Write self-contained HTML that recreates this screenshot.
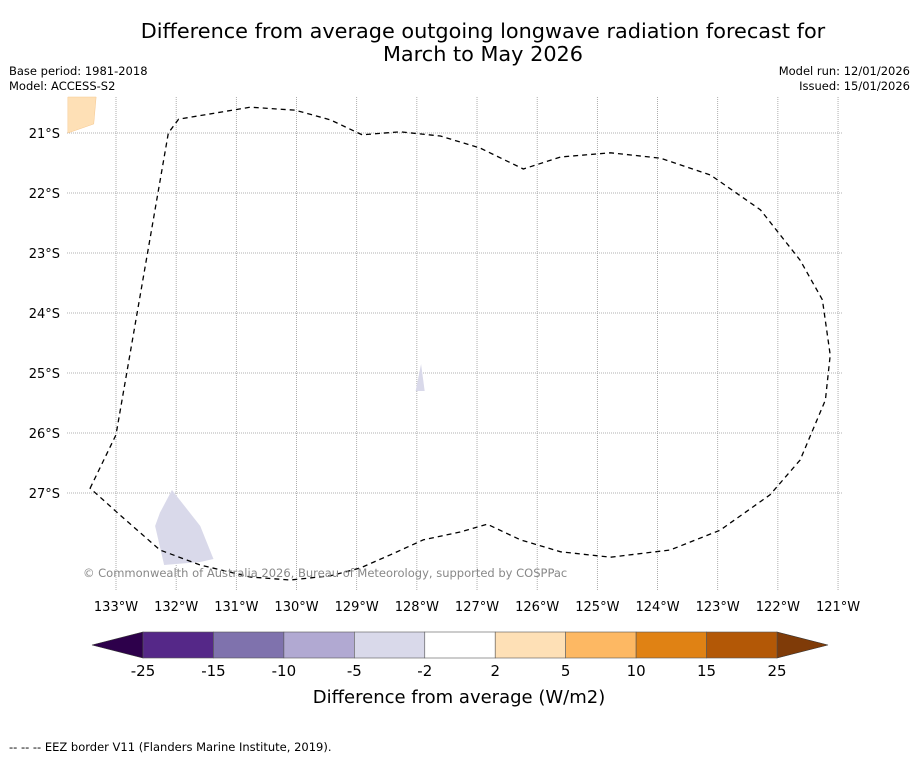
<!DOCTYPE html>
<html><head><meta charset="utf-8"><style>
body{margin:0;background:#fff;font-family:"Liberation Sans","DejaVu Sans",sans-serif}
</style></head><body>
<svg id="s" width="919" height="758" viewBox="0 0 919 758" xmlns="http://www.w3.org/2000/svg" font-family="DejaVu Sans, Liberation Sans, sans-serif">
<rect width="919" height="758" fill="#fff"/>
<text x="483" y="38" font-size="20.8" text-anchor="middle">Difference from average outgoing longwave radiation forecast for</text>
<text x="483" y="61" font-size="20.8" text-anchor="middle">March to May 2026</text>
<text x="9" y="75" font-size="11.5">Base period: 1981-2018</text>
<text x="9" y="90" font-size="11.5">Model: ACCESS-S2</text>
<text x="910" y="75" font-size="11.5" text-anchor="end">Model run: 12/01/2026</text>
<text x="910" y="90" font-size="11.5" text-anchor="end">Issued: 15/01/2026</text>
<g id="map"></g>
<g id="cb"></g>
<text x="459" y="703" font-size="18" text-anchor="middle">Difference from average (W/m2)</text>
<text x="9" y="751" font-size="11.5">--  --  -- EEZ border V11 (Flanders Marine Institute, 2019).</text>
</svg>
<script>
const lonTicks=[-133,-132,-131,-130,-129,-128,-127,-126,-125,-124,-123,-122,-121];
const latTicks=[-21,-22,-23,-24,-25,-26,-27];
const cbLevels=[-25,-15,-10,-5,-2,2,5,10,15,25];
const cbColors=["#552888","#7f72ad","#b1a9d2","#d9d9ea","#ffffff","#fee0b6","#fdb863","#e08214","#b35806"];
const boundaryLon=[-133.43,-133,-132.13,-131.96,-130.77,-130.02,-129.44,-128.91,-128.28,-127.61,-126.95,-126.23,-125.61,-124.78,-123.95,-123.12,-122.29,-121.63,-121.26,-121.13,-121.21,-121.63,-122.13,-122.96,-123.79,-124.78,-125.61,-126.28,-126.83,-127.28,-127.89,-128.44,-128.94,-129.44,-130.1,-130.77,-131.6,-132.27,-132.93,-133.43];
const boundaryLat=[-26.92,-26.03,-21,-20.77,-20.57,-20.62,-20.78,-21.03,-20.98,-21.05,-21.25,-21.6,-21.4,-21.33,-21.42,-21.7,-22.28,-23.12,-23.78,-24.7,-25.45,-26.45,-27.03,-27.62,-27.95,-28.07,-27.98,-27.78,-27.52,-27.65,-27.78,-28.03,-28.25,-28.38,-28.45,-28.4,-28.2,-27.95,-27.37,-26.92];
const blobLon=[-132.07,-131.6,-131.38,-131.6,-132.2,-132.35,-132.27];
const blobLat=[-26.95,-27.55,-28.1,-28.15,-28.2,-27.55,-27.33];
const smallLon=[-127.93,-127.87,-128.02];
const smallLat=[-24.85,-25.3,-25.3];
const orangeLon=[-133.8,-133.33,-133.37,-133.8];
const orangeLat=[-20.4,-20.4,-20.85,-21];
const X=lon=>116+(lon+133)*60.17, Y=lat=>133+(-21-lat)*60;
const NS="http://www.w3.org/2000/svg";
function mk(p,t,a){const e=document.createElementNS(NS,t);for(const k in a)e.setAttribute(k,a[k]);p.appendChild(e);return e;}
const map=document.getElementById('map');
const L=67,R=843,T=97,B=590;
lonTicks.forEach(v=>{const x=X(v);
 const g=mk(map,'line',{x1:x,x2:x,y1:T,y2:B,stroke:'#999','stroke-width':0.8,'stroke-dasharray':'1,1'});
 
 
 const t=mk(map,'text',{x:x,y:611,'font-size':13,'text-anchor':'middle'});t.textContent=Math.abs(v)+'°W';
 
 });
latTicks.forEach(v=>{const y=Y(v);
 const g=mk(map,'line',{x1:L,x2:R,y1:y,y2:y,stroke:'#999','stroke-width':0.8,'stroke-dasharray':'1,1'});
 
 
 const t=mk(map,'text',{x:60,y:y+5,'font-size':13,'text-anchor':'end'});t.textContent=Math.abs(v)+'°S';
 
 });
function poly(lo,la,attrs,name){const e=mk(map,'polygon',Object.assign({points:lo.map((v,i)=>X(v)+','+Y(la[i])).join(' ')},attrs));
 
 }
poly(orangeLon,orangeLat,{fill:'#fee0b6',stroke:'#f5c890','stroke-width':0.5},'anomaly-region-positive');
poly(blobLon,blobLat,{fill:'#d9d9ea'},'anomaly-region-negative');
poly(smallLon,smallLat,{fill:'#d9d9ea'},'anomaly-region-small');
poly(boundaryLon,boundaryLat,{fill:'none',stroke:'#000','stroke-width':1.3,'stroke-dasharray':'5,4'},'eez-boundary');
const cr=mk(map,'text',{x:83,y:577,'font-size':11.5,fill:'#888'});cr.textContent='© Commonwealth of Australia 2026, Bureau of Meteorology, supported by COSPPac';


const cb=document.getElementById('cb');
const c0=143,c1=777,cy0=632,cy1=658,n=cbColors.length,w=(c1-c0)/n;
let tl=mk(cb,'polygon',{points:`${c0},${cy0} ${c0},${cy1} 92,645`,fill:'#2d004b',stroke:'#333','stroke-width':0.6});


let tr=mk(cb,'polygon',{points:`${c1},${cy0} ${c1},${cy1} 828,645`,fill:'#7f3b08',stroke:'#333','stroke-width':0.6});


cbColors.forEach((c,i)=>{const r=mk(cb,'rect',{x:c0+i*w,y:cy0,width:w,height:cy1-cy0,fill:c,stroke:'#555','stroke-width':0.6});
 
 });
cbLevels.forEach((v,i)=>{const t=mk(cb,'text',{x:c0+i*w,y:676,'font-size':15,'text-anchor':'middle'});t.textContent=v;
 
 });
</script>
</body></html>
